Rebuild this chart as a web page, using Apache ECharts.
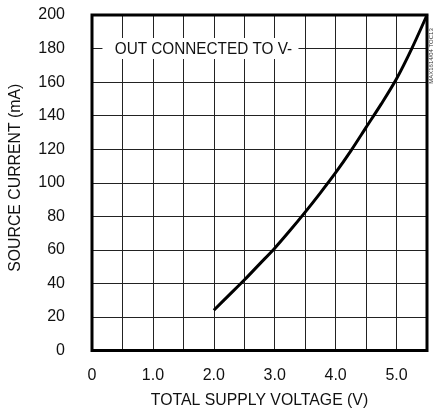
<!DOCTYPE html>
<html>
<head>
<meta charset="utf-8">
<script src="https://cdn.jsdelivr.net/npm/echarts@6/dist/echarts.min.js"></script>
<style>
html,body{margin:0;padding:0;background:#fff;}
#c{width:436px;height:410px;}
</style>
</head>
<body>
<div id="c"></div>
<script>
// Data
const voltage = [2.0, 2.25, 2.5, 2.75, 3.0, 3.25, 3.5, 3.75, 4.0, 4.25, 4.5, 4.75, 5.0, 5.25, 5.5];
const sourceCurrent = [24, 33, 42, 51.5, 61, 71.5, 82.5, 94, 106, 119, 133, 147, 162, 180, 200];
const xTicks = [0, 1.0, 2.0, 3.0, 4.0, 5.0];
const yTicks = [0, 20, 40, 60, 80, 100, 120, 140, 160, 180, 200];
const annotationText = 'OUT CONNECTED TO V-';
const annotationPos = [1.83, 180];
const xName = 'TOTAL SUPPLY VOLTAGE (V)';
const yName = 'SOURCE CURRENT (mA)';
const docId = 'MAX1614/04 TOC13';

const chart = echarts.init(document.getElementById('c'), null, {renderer: 'canvas'});
const tickFont = 'Liberation Sans, Arial, sans-serif';
const nameFont = '17px Liberation Sans, Arial, sans-serif';

chart.setOption({
  animation: false,
  backgroundColor: '#fff',
  grid: {left: 92, top: 15, width: 335, height: 335.5, show: true, borderColor: '#000', borderWidth: 3, backgroundColor: 'transparent', z: 10},
  xAxis: {
    type: 'value', min: 0, max: 5.5, interval: 0.5,
    axisLine: {show: false}, axisTick: {show: false},
    axisLabel: {
      margin: 17, fontFamily: tickFont, fontSize: 16, color: '#111',
      formatter: v => xTicks.indexOf(v) >= 0 ? (v === 0 ? '0' : v.toFixed(1)) : ''
    },
    splitLine: {show: true, lineStyle: {color: '#222', width: 1}}
  },
  yAxis: {
    type: 'value', min: 0, max: 200, interval: 20,
    axisLine: {show: false}, axisTick: {show: false},
    axisLabel: {
      margin: 27, fontFamily: tickFont, fontSize: 16, color: '#111',
      formatter: v => yTicks.indexOf(v) >= 0 ? String(v) : ''
    },
    splitLine: {show: true, lineStyle: {color: '#222', width: 1}}
  },
  series: [
    {
      type: 'line',
      data: voltage.map((v, i) => [v, sourceCurrent[i]]),
      smooth: 0.3, showSymbol: false,
      lineStyle: {color: '#000', width: 3},
      z: 5
    }
  ]
});

// Text placed through the chart's own coordinate conversion
const p0 = chart.convertToPixel({gridIndex: 0}, [0, 0]);
const p1 = chart.convertToPixel({gridIndex: 0}, [5.5, 200]);
const pa = chart.convertToPixel({gridIndex: 0}, annotationPos);
const cx = (p0[0] + p1[0]) / 2;
const cy = (p0[1] + p1[1]) / 2;

chart.setOption({
  graphic: [
    {
      type: 'rect', z: 20,
      shape: {x: pa[0] - 101, y: pa[1] - 10.5, width: 196, height: 21},
      style: {fill: '#fff'}
    },
    {
      type: 'text', z: 21, x: pa[0], y: pa[1] + 1, scaleX: 0.9,
      style: {text: annotationText, font: nameFont, fill: '#111', align: 'center', verticalAlign: 'middle'}
    },
    {
      type: 'text', z: 21, x: cx, y: p0[1] + 50, scaleX: 0.93,
      style: {text: xName, font: nameFont, fill: '#111', align: 'center', verticalAlign: 'middle'}
    },
    {
      type: 'text', z: 21, x: 15, y: cy - 5, rotation: Math.PI / 2, scaleX: 0.93,
      style: {text: yName, font: nameFont, fill: '#111', align: 'center', verticalAlign: 'middle'}
    },
    {
      type: 'text', z: 21, x: 431, y: 56, rotation: Math.PI / 2,
      style: {text: docId, font: '6px Liberation Sans, Arial, sans-serif', fill: '#333', align: 'center', verticalAlign: 'middle'}
    }
  ]
});
</script>
</body>
</html>
